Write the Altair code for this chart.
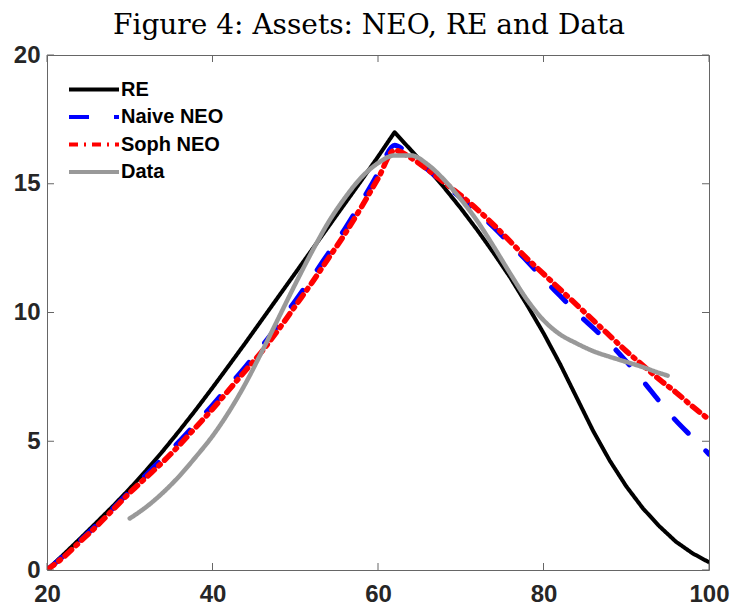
import altair as alt
import pandas as pd

# ---- data ----
series_names = ["RE", "Naive NEO", "Soph NEO", "Data"]
series_colors = ["#000000", "#0000ff", "#ff0000", "#999999"]

age_model = list(range(20, 101, 2))  # 20..100
re_assets = [0, 0.60, 1.22, 1.85, 2.49, 3.16, 3.87, 4.62, 5.41, 6.23, 7.08, 7.95, 8.83,
             9.73, 10.63, 11.53, 12.43, 13.33, 14.23, 15.13, 16.05, 17.0,
             16.3, 15.6, 14.85, 14.05, 13.2, 12.3, 11.35, 10.3, 9.2, 8.0, 6.7, 5.4,
             4.25, 3.25, 2.4, 1.7, 1.1, 0.65, 0.3]
naive_assets = [0, 0.55, 1.15, 1.75, 2.4, 3.05, 3.7, 4.35, 5.0, 5.7, 6.4, 7.15, 7.9, 8.7,
                9.55, 10.45, 11.35, 12.3, 13.25, 14.3, 15.4, 16.5,
                16.05, 15.55, 15.0, 14.45, 13.9, 13.3, 12.65, 12.0, 11.3, 10.65, 10.0,
                9.4, 8.8, 8.1, 7.35, 6.55, 5.8, 5.15, 4.5]
soph_assets = [0, 0.5, 1.1, 1.7, 2.35, 3.0, 3.6, 4.2, 4.85, 5.55, 6.25, 7.0, 7.75, 8.5,
               9.35, 10.25, 11.15, 12.1, 13.05, 14.1, 15.2, 16.3,
               16.0, 15.55, 15.05, 14.55, 14.0, 13.4, 12.75, 12.1, 11.5, 10.9, 10.3,
               9.7, 9.1, 8.5, 7.95, 7.4, 6.9, 6.35, 5.85]
age_data = [30, 32, 34, 36, 38, 40, 42, 44, 46, 48, 50, 52, 54, 56, 58, 60, 62, 64, 66,
            68, 70, 72, 74, 76, 78, 80, 82, 84, 86, 88, 90, 92, 94, 95]
data_assets = [2.0, 2.45, 3.0, 3.65, 4.4, 5.2, 6.15, 7.25, 8.5, 9.8, 11.1, 12.35, 13.5,
               14.45, 15.25, 15.8, 16.1, 16.1, 15.75, 15.15, 14.4, 13.55, 12.55, 11.5,
               10.5, 9.7, 9.15, 8.8, 8.5, 8.28, 8.08, 7.88, 7.65, 7.55]

x_ticks = [20, 40, 60, 80, 100]
y_ticks = [0, 5, 10, 15, 20]

rows = []
for name, xs, ys in [("RE", age_model, re_assets),
                     ("Naive NEO", age_model, naive_assets),
                     ("Soph NEO", age_model, soph_assets),
                     ("Data", age_data, data_assets)]:
    for a, v in zip(xs, ys):
        rows.append({"series": name, "age": a, "assets": v})
df = pd.DataFrame(rows)

W, H = 662, 515
TICK = 7
AXIS_COLOR = "#666666"

xscale = alt.Scale(domain=[20, 100], nice=False, zero=False)
yscale = alt.Scale(domain=[0, 20], nice=False, zero=False)
x_axis = alt.Axis(values=x_ticks, title=None, labelPadding=12)
y_axis = alt.Axis(values=y_ticks, title=None, labelPadding=7)

legend = alt.Legend(
    title=None, orient="none", legendX=20, legendY=23.5,
    symbolType="stroke", symbolSize=2500, symbolStrokeWidth=4,
    labelFont="Liberation Sans", labelFontSize=20, labelFontWeight="bold",
    labelColor="black", labelOffset=0, clipHeight=22, rowPadding=5.5, padding=0,
)
color_enc = alt.Color("series:N",
                      scale=alt.Scale(domain=series_names, range=series_colors),
                      legend=legend)
dash_enc = alt.StrokeDash("series:N",
                          scale=alt.Scale(domain=series_names,
                                          range=[[1, 0], [20, 25], [9, 6, 2, 6], [1, 0]]),
                          legend=legend)

base = alt.Chart(df)


def series_line(name, width, interp):
    return base.transform_filter(alt.datum.series == name).mark_line(
        strokeWidth=width, strokeCap="round", strokeJoin="round",
        interpolate=interp, clip=True,
    ).encode(
        x=alt.X("age:Q", scale=xscale, axis=x_axis),
        y=alt.Y("assets:Q", scale=yscale, axis=y_axis),
        color=color_enc,
        strokeDash=dash_enc,
        order=alt.Order("age:Q"),
    )


xt = pd.DataFrame({"age": x_ticks})
yt = pd.DataFrame({"assets": y_ticks})
tick_x_bottom = alt.Chart(xt).mark_rule(color=AXIS_COLOR, strokeWidth=1).encode(
    x=alt.X("age:Q", scale=xscale, axis=x_axis), y=alt.value(H), y2=alt.value(H - TICK))
tick_x_top = alt.Chart(xt).mark_rule(color=AXIS_COLOR, strokeWidth=1).encode(
    x=alt.X("age:Q", scale=xscale, axis=x_axis), y=alt.value(0), y2=alt.value(TICK))
tick_y_left = alt.Chart(yt).mark_rule(color=AXIS_COLOR, strokeWidth=1).encode(
    y=alt.Y("assets:Q", scale=yscale, axis=y_axis), x=alt.value(0), x2=alt.value(TICK))
tick_y_right = alt.Chart(yt).mark_rule(color=AXIS_COLOR, strokeWidth=1).encode(
    y=alt.Y("assets:Q", scale=yscale, axis=y_axis), x=alt.value(W), x2=alt.value(W - TICK))

chart = alt.layer(
    series_line("RE", 4, "linear"),
    series_line("Naive NEO", 5, "monotone"),
    series_line("Soph NEO", 5.5, "monotone"),
    series_line("Data", 4.5, "monotone"),
    tick_x_bottom, tick_x_top, tick_y_left, tick_y_right,
).properties(
    width=W, height=H,
    background="white",
    title=alt.TitleParams("Figure 4: Assets: NEO, RE and Data",
                          font="DejaVu Serif", fontSize=28, fontWeight="normal",
                          color="black", anchor="middle", offset=3, dx=-9),
    autosize=alt.AutoSizeParams(type="none"),
    padding={"left": 47, "top": 55, "right": 25, "bottom": 37},
).configure_view(
    stroke=AXIS_COLOR, strokeWidth=1
).configure_axis(
    ticks=False, domain=False, grid=False,
    labelFont="Liberation Sans", labelFontSize=24, labelFontWeight="bold",
    labelColor="#262626", labelFlush=False, labelOverlap=False,
)

chart.save("out.html", embed_options={"renderer": "svg", "actions": False})
